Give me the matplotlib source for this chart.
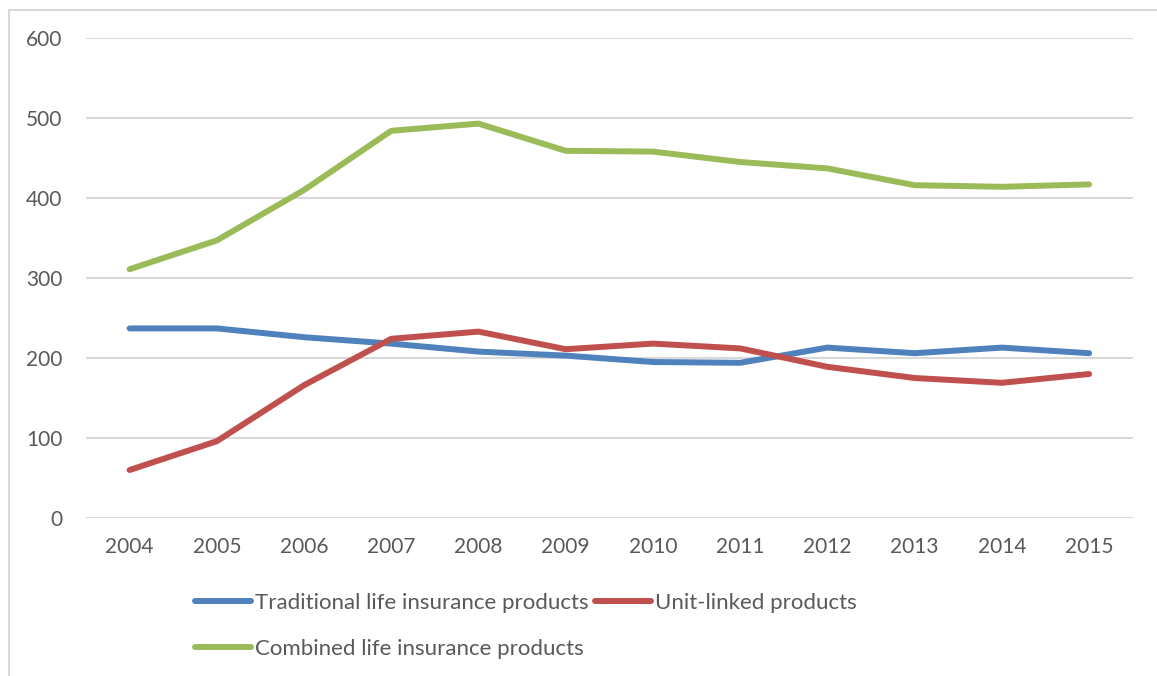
import matplotlib.pyplot as plt
from matplotlib.patches import Rectangle

years = ["2004", "2005", "2006", "2007", "2008", "2009",
         "2010", "2011", "2012", "2013", "2014", "2015"]
traditional = [237, 237, 226, 218, 208, 203, 195, 194, 213, 206, 213, 206]
unit_linked = [60, 96, 166, 224, 233, 211, 218, 212, 189, 175, 169, 180]
combined = [311, 347, 410, 484, 493, 459, 458, 445, 437, 416, 414, 417]

BLUE = "#4F81BD"
RED = "#C0504D"
GREEN = "#9BBB59"
GRID = "#D9D9D9"
TEXT = "#595959"

plt.rcParams["font.family"] = ["Lato", "DejaVu Sans"]

fig = plt.figure(figsize=(11.57, 6.76), dpi=100)
ax = fig.add_axes([0.0743, 0.2337, 0.9047, 0.7101])

# chart area frame
fig.patches.append(Rectangle((9 / 1157, -0.1), 1.2, 1 - 10 / 676 + 0.1,
                             transform=fig.transFigure, fill=False,
                             edgecolor=GRID, linewidth=1.5))

x = range(len(years))
lt, = ax.plot(x, traditional, color=BLUE, lw=4.3, solid_capstyle="round",
              solid_joinstyle="round", label="Traditional life insurance products")
lu, = ax.plot(x, unit_linked, color=RED, lw=4.3, solid_capstyle="round",
              solid_joinstyle="round", label="Unit-linked products")
lc, = ax.plot(x, combined, color=GREEN, lw=4.3, solid_capstyle="round",
              solid_joinstyle="round", label="Combined life insurance products")

ax.set_xlim(-0.5, len(years) - 0.5)
ax.set_ylim(0, 600)
ax.set_yticks(range(0, 601, 100))
ax.set_xticks(list(x))
ax.set_xticklabels(years)
ax.grid(axis="y", color=GRID, lw=1.5)
ax.set_axisbelow(True)
for s in ax.spines.values():
    s.set_visible(False)
ax.tick_params(axis="both", length=0, labelsize=15, labelcolor=TEXT)
ax.tick_params(axis="y", pad=17)
ax.tick_params(axis="x", pad=14)

# column-major fill: Traditional/Combined in col 1, Unit-linked in col 2
leg = fig.legend([lt, lc, lu],
                 [lt.get_label(), lc.get_label(), lu.get_label()],
                 ncol=2, loc="upper left", bbox_to_anchor=(195 / 1157, 1 - 593 / 676),
                 frameon=False, fontsize=16, handlelength=2.5, handletextpad=0.2,
                 columnspacing=0.3, labelspacing=1.15, borderpad=0, borderaxespad=0)
for t in leg.get_texts():
    t.set_color(TEXT)

fig.savefig("out.png", dpi=100)
